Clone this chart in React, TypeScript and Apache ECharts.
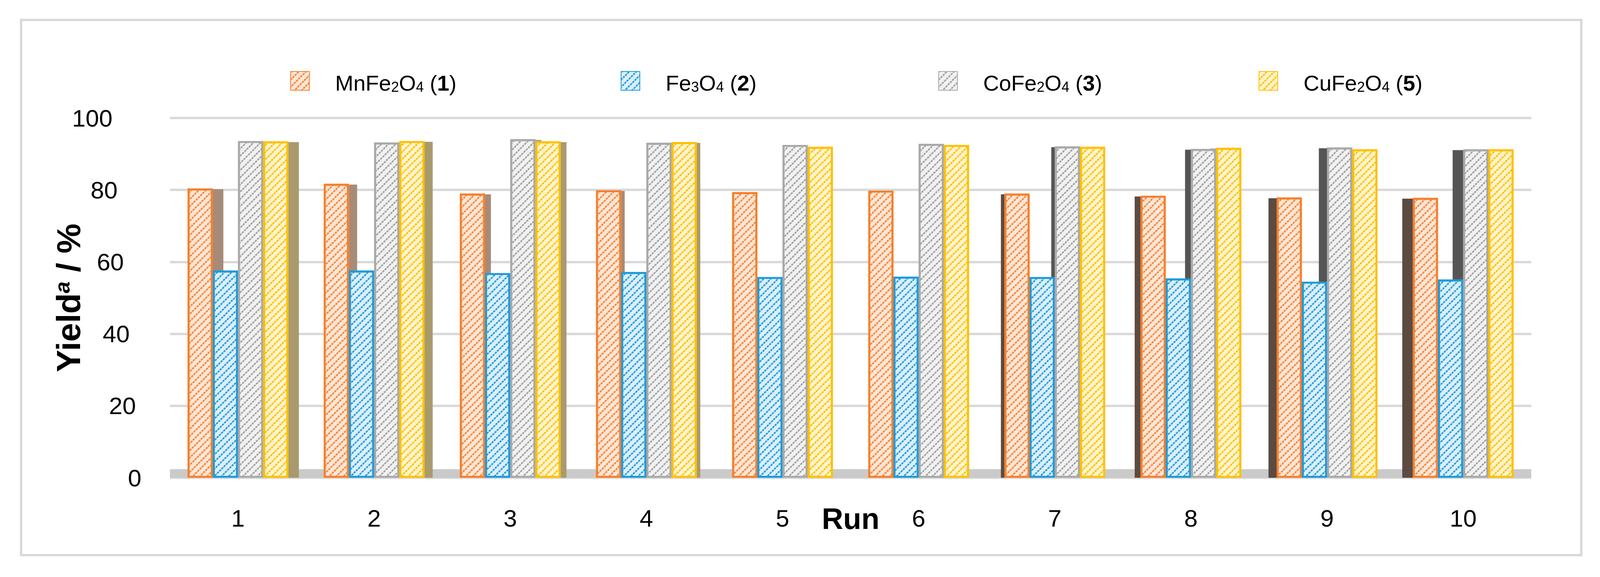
import React, { useEffect, useRef } from 'react';
import * as echarts from 'echarts';

const runs = ['1', '2', '3', '4', '5', '6', '7', '8', '9', '10'];
const mnFe2O4 = [80.4, 81.7, 79.0, 79.9, 79.4, 79.8, 79.0, 78.4, 77.9, 77.8];
const fe3O4 = [57.6, 57.6, 56.9, 57.2, 55.8, 55.9, 55.8, 55.4, 54.5, 55.1];
const coFe2O4 = [93.6, 93.2, 94.1, 93.1, 92.5, 92.8, 92.1, 91.4, 91.8, 91.3];
const cuFe2O4 = [93.5, 93.6, 93.5, 93.3, 92.0, 92.5, 92.0, 91.7, 91.3, 91.3];
const yTicks = [0, 20, 40, 60, 80, 100];

const seriesNames = ['MnFe2O4 (1)', 'Fe3O4 (2)', 'CoFe2O4 (3)', 'CuFe2O4 (5)'];
const legendLabels = [
  '{n|MnFe}{s|2}{n|O}{s|4}{n| (}{b|1}{n|)}',
  '{n|Fe}{s|3}{n|O}{s|4}{n| (}{b|2}{n|)}',
  '{n|CoFe}{s|2}{n|O}{s|4}{n| (}{b|3}{n|)}',
  '{n|CuFe}{s|2}{n|O}{s|4}{n| (}{b|5}{n|)}',
];

const FONT = '"Liberation Sans", Arial, sans-serif';

const palette = [
  { border: '#F77F2C', fill: '#FDE6D6', stripe: '#F7873A', sideR: '#A68B79', sideL: '#5B4B41' },
  { border: '#1F9BDC', fill: '#DCEFFB', stripe: '#2A9FDF', sideR: '#6E98B2', sideL: '#3E5E73' },
  { border: '#A9A9A9', fill: '#F1F1F1', stripe: '#A5A5A5', sideR: '#9C9C9C', sideL: '#555555' },
  { border: '#FFC000', fill: '#FFF4CC', stripe: '#FFC000', sideR: '#A99A6E', sideL: '#6B5E3A' },
];

const legendLeft = [743, 1589, 2402, 3222];
const labelShift: Record<number, number> = { 0: 0, 20: 14, 40: 30, 60: 45, 80: 61, 100: 74 };
const CAT_GAP = 0.26;

export default function App() {
  const ref = useRef<HTMLDivElement>(null);
  useEffect(() => {
    if (!ref.current) return;
    const chart = echarts.init(ref.current, null, { renderer: 'svg' });

    const dataSets = [mnFe2O4, fe3O4, coFe2O4, cuFe2O4];
    const barSeries = dataSets.map((d, i) => ({
      type: 'bar',
      name: seriesNames[i],
      data: d,
      barGap: '0%',
      barCategoryGap: CAT_GAP * 100 + '%',
      z: 3,
      itemStyle: {
        color: palette[i].fill,
        borderColor: palette[i].border,
        borderWidth: 5,
        decal: {
          symbol: 'rect',
          color: palette[i].stripe,
          dashArrayX: [6, 2],
          dashArrayY: [4, 9],
          rotation: -Math.PI / 4,
        },
      },
    }));

    // side faces (pseudo 3-D), one item per bar
    const sideData: number[][] = [];
    dataSets.forEach((d, j) => d.forEach((v, i) => sideData.push([i, v, j])));
    const mid = (runs.length - 1) / 2;
    const sideSeries = {
      type: 'custom',
      name: 'sides',
      silent: true,
      z: 2,
      data: sideData,
      encode: { x: 0, y: 1 },
      renderItem: (params: any, api: any) => {
        const i = api.value(0);
        const v = api.value(1);
        const j = api.value(2);
        const top = api.coord([i, v]);
        const base = api.coord([i, 0]);
        const band = api.size([1, 0])[0];
        const gw = band * (1 - CAT_GAP);
        const bw = gw / 4;
        const left = top[0] - gw / 2 + j * bw;
        const d = i - mid;
        const w = Math.abs(d) * 6;
        if (w < 4) return null;
        const x0 = d < 0 ? left + bw : left - w;
        const color = d < 0 ? palette[j].sideR : palette[j].sideL;
        return {
          type: 'rect',
          shape: { x: x0, y: top[1] + 2, width: w, height: base[1] - top[1] - 2 },
          style: { fill: color },
        };
      },
    };

    const tickRich: Record<string, any> = {};
    yTicks.forEach((t) => {
      tickRich['t' + t] = {
        fontSize: 62,
        fontFamily: FONT,
        color: '#000',
        padding: [0, labelShift[t], 0, 0],
      };
    });

    const legendRich = {
      n: { fontSize: 56, fontFamily: FONT, color: '#000', lineHeight: 66, verticalAlign: 'bottom' },
      s: { fontSize: 36, fontFamily: FONT, color: '#000', lineHeight: 42, verticalAlign: 'bottom' },
      b: { fontSize: 56, fontFamily: FONT, fontWeight: 'bold', color: '#000', lineHeight: 66, verticalAlign: 'bottom' },
    };

    chart.setOption({
      animation: false,
      backgroundColor: '#fff',
      textStyle: { fontFamily: FONT },
      graphic: [
        {
          type: 'rect',
          shape: { x: 54, y: 51, width: 3994, height: 1370 },
          style: { fill: 'transparent', stroke: '#D9D9D9', lineWidth: 6 },
          z: -10,
          silent: true,
        },
      ],
      legend: seriesNames.map((n, i) => ({
        data: [n],
        left: legendLeft[i],
        top: 182,
        padding: 0,
        itemWidth: 48,
        itemHeight: 48,
        icon: 'rect',
        selectedMode: false,
        formatter: () => legendLabels[i],
        textStyle: { padding: [0, 0, 0, 61], rich: legendRich },
      })),
      grid: { left: 435, right: 182, top: 302, bottom: 254, containLabel: false },
      xAxis: {
        type: 'category',
        data: runs,
        axisLine: { show: false },
        axisTick: { show: false },
        axisLabel: { margin: 72, fontSize: 62, color: '#000', fontFamily: FONT },
        name: 'Run',
        nameLocation: 'middle',
        nameGap: 66,
        nameMoveOverlap: false,
        nameTextStyle: { fontSize: 76, fontWeight: 'bold', color: '#000', fontFamily: FONT },
      },
      yAxis: {
        type: 'value',
        min: 0,
        max: 100,
        interval: 20,
        axisLine: { show: false },
        axisTick: { show: false },
        axisLabel: {
          margin: 73,
          formatter: (v: number) => `{t${v}|${v}}`,
          rich: tickRich,
        },
        splitLine: { lineStyle: { color: '#D9D9D9', width: 6 } },
        name: '{y|Yield}{a|a}{y| / %}',
        nameLocation: 'middle',
        nameGap: 203,
        nameMoveOverlap: false,
        nameRotate: 90,
        nameTextStyle: {
          rich: {
            y: { fontSize: 86, fontWeight: 'bold', fontFamily: FONT, color: '#000', lineHeight: 100, verticalAlign: 'top' },
            a: { fontSize: 54, fontWeight: 'bold', fontStyle: 'italic', fontFamily: FONT, color: '#000', lineHeight: 60, verticalAlign: 'top' },
          },
        },
      },
      series: [
        {
          type: 'line',
          name: 'floor',
          data: [],
          silent: true,
          z: 1,
          markArea: {
            silent: true,
            itemStyle: { color: '#CACACA' },
            data: [[{ yAxis: 0 }, { yAxis: 2.4 }]],
          },
        },
        sideSeries,
        ...barSeries,
      ],
    });

    return () => chart.dispose();
  }, []);

  return (
    <div
      ref={ref}
      style={{ position: 'absolute', left: 0, top: 0, width: 4102, height: 1477 }}
    />
  );
}
